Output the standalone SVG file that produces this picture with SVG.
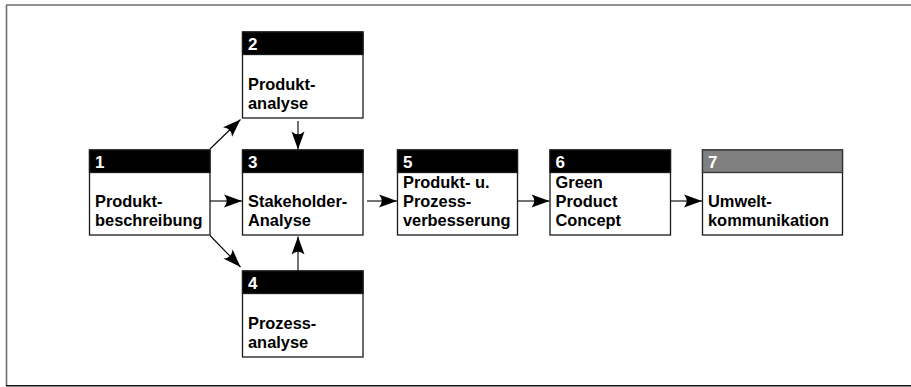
<svg xmlns="http://www.w3.org/2000/svg" width="911" height="387" viewBox="0 0 911 387">
  <style>
    .box { fill: #ffffff; stroke: #1a1a1a; stroke-width: 1.3; }
    .head { fill: #000000; stroke: #1a1a1a; stroke-width: 1.3; }
    .head-grey { fill: #808080; stroke: #333333; stroke-width: 1.3; }
    .num { font-family: "Liberation Sans", Arial, Helvetica, sans-serif; font-weight: bold; font-size: 17px; fill: #ffffff; }
    .lbl { font-family: "Liberation Sans", Arial, Helvetica, sans-serif; font-weight: bold; font-size: 16.4px; fill: #000000; }
    .conn { fill: none; stroke: #000000; stroke-width: 1.1; }
  </style>
  <defs>
    <marker id="arrow" markerUnits="userSpaceOnUse" markerWidth="22" markerHeight="16" viewBox="-20 -8 22 16" refX="0" refY="0" orient="auto">
      <path d="M0,0 L-18,-6.5 Q-12.5,0 -18,6.5 Z" fill="#000000"/>
    </marker>
  </defs>

  <!-- frame -->
  <g id="frame">
    <line x1="6" y1="5" x2="911" y2="5" stroke="#6e6e6e" stroke-width="1.6"/>
    <line x1="6.5" y1="5" x2="6.5" y2="386" stroke="#6e6e6e" stroke-width="1.6"/>
    <line x1="6" y1="385.8" x2="911" y2="385.8" stroke="#111111" stroke-width="1.4"/>
  </g>

  <!-- connectors -->
  <g id="connectors">
    <path class="conn" d="M210,149 L240.5,119.5" marker-end="url(#arrow)"/>
    <path class="conn" d="M210,201 L242,201" marker-end="url(#arrow)"/>
    <path class="conn" d="M210,235.5 L240.5,267" marker-end="url(#arrow)"/>
    <path class="conn" d="M298,121 L298,149.5" marker-end="url(#arrow)"/>
    <path class="conn" d="M298,271 L298,236.5" marker-end="url(#arrow)"/>
    <path class="conn" d="M367,201 L397,201" marker-end="url(#arrow)"/>
    <path class="conn" d="M518,201 L549.5,201" marker-end="url(#arrow)"/>
    <path class="conn" d="M671,201 L702,201" marker-end="url(#arrow)"/>
  </g>

  <!-- 1 Produktbeschreibung -->
  <g id="node1">
    <rect class="box" x="89.5" y="150" width="120.5" height="85"/>
    <rect class="head" x="89.5" y="150" width="120.5" height="22.5"/>
    <text class="num" x="95" y="167.5">1</text>
    <text class="lbl" x="95" y="206.5">Produkt-</text>
    <text class="lbl" x="95" y="226">beschreibung</text>
  </g>

  <!-- 2 Produktanalyse -->
  <g id="node2">
    <rect class="box" x="242.5" y="32" width="120.5" height="86"/>
    <rect class="head" x="242.5" y="32" width="120.5" height="22.5"/>
    <text class="num" x="248" y="49.5">2</text>
    <text class="lbl" x="248" y="89.5">Produkt-</text>
    <text class="lbl" x="248" y="109">analyse</text>
  </g>

  <!-- 3 Stakeholder-Analyse -->
  <g id="node3">
    <rect class="box" x="242.5" y="150" width="120.5" height="85"/>
    <rect class="head" x="242.5" y="150" width="120.5" height="22.5"/>
    <text class="num" x="248" y="167.5">3</text>
    <text class="lbl" x="248" y="206.5">Stakeholder-</text>
    <text class="lbl" x="248" y="226">Analyse</text>
  </g>

  <!-- 4 Prozessanalyse -->
  <g id="node4">
    <rect class="box" x="242.5" y="271" width="120.5" height="86"/>
    <rect class="head" x="242.5" y="271" width="120.5" height="22.5"/>
    <text class="num" x="248" y="288.5">4</text>
    <text class="lbl" x="248" y="328.5">Prozess-</text>
    <text class="lbl" x="248" y="348">analyse</text>
  </g>

  <!-- 5 Produkt- u. Prozessverbesserung -->
  <g id="node5">
    <rect class="box" x="397.5" y="150" width="120" height="85"/>
    <rect class="head" x="397.5" y="150" width="120" height="22.5"/>
    <text class="num" x="403" y="167.5">5</text>
    <text class="lbl" x="403" y="187.5">Produkt- u.</text>
    <text class="lbl" x="403" y="207">Prozess-</text>
    <text class="lbl" x="403" y="226">verbesserung</text>
  </g>

  <!-- 6 Green Product Concept -->
  <g id="node6">
    <rect class="box" x="550" y="150" width="120.5" height="85"/>
    <rect class="head" x="550" y="150" width="120.5" height="22.5"/>
    <text class="num" x="555.5" y="167.5">6</text>
    <text class="lbl" x="555.5" y="187.5">Green</text>
    <text class="lbl" x="555.5" y="207">Product</text>
    <text class="lbl" x="555.5" y="226">Concept</text>
  </g>

  <!-- 7 Umweltkommunikation -->
  <g id="node7">
    <rect class="box" x="702.5" y="150" width="140" height="85"/>
    <rect class="head-grey" x="702.5" y="150" width="140" height="22.5"/>
    <text class="num" x="708" y="167.5">7</text>
    <text class="lbl" x="708" y="206.5">Umwelt-</text>
    <text class="lbl" x="708" y="226">kommunikation</text>
  </g>
</svg>
